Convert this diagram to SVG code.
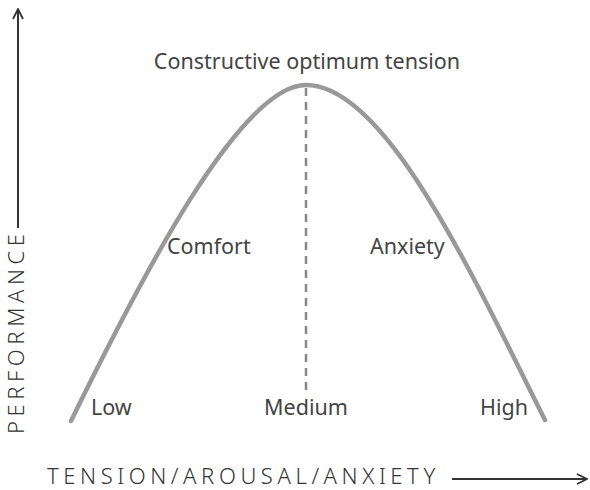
<svg xmlns="http://www.w3.org/2000/svg" width="590" height="490" viewBox="0 0 590 490">
<defs>
<style>
.lbl{font-family:"Noto Sans","Open Sans","DejaVu Sans",sans-serif;font-size:21.5px;fill:#444}
.axis{font-family:"Noto Sans","Open Sans","DejaVu Sans",sans-serif;font-size:22px;fill:#333;letter-spacing:4.6px;font-weight:300}
.ax{stroke:#333;stroke-width:2;fill:none}
</style>
<marker id="arr" viewBox="0 0 12 12" refX="11" refY="6" markerWidth="12" markerHeight="12" markerUnits="userSpaceOnUse" orient="auto">
<path d="M1,1 L11,6 L1,11" fill="none" stroke="#333" stroke-width="1.8"/>
</marker>
</defs>
<rect width="590" height="490" fill="#fff"/>
<g id="connectors">
<line class="ax" x1="18" y1="228" x2="18" y2="9" marker-end="url(#arr)"/>
<line class="ax" x1="452" y1="479" x2="587" y2="479" marker-end="url(#arr)"/>
<line x1="306" y1="88" x2="306" y2="392" stroke="#888" stroke-width="2.5" stroke-dasharray="8,6"/>
</g>
<g id="curve">
<path d="M71,421 C140,280 240,85 306,85 C385,85 470,270 545,420" fill="none" stroke="#999" stroke-width="4.5" stroke-linecap="round"/>
</g>
<g id="title"><text class="lbl" x="307" y="69" text-anchor="middle">Constructive optimum tension</text></g>
<g id="comfort"><text class="lbl" x="167" y="254">Comfort</text></g>
<g id="anxiety"><text class="lbl" x="370" y="254">Anxiety</text></g>
<g id="low"><text class="lbl" x="91" y="415">Low</text></g>
<g id="medium"><text class="lbl" x="306" y="415" text-anchor="middle">Medium</text></g>
<g id="high"><text class="lbl" x="480" y="415">High</text></g>
<g id="yaxis"><text class="axis" transform="translate(24,434) rotate(-90)">PERFORMANCE</text></g>
<g id="xaxis"><text class="axis" x="47" y="484">TENSION/AROUSAL/ANXIETY</text></g>
</svg>
